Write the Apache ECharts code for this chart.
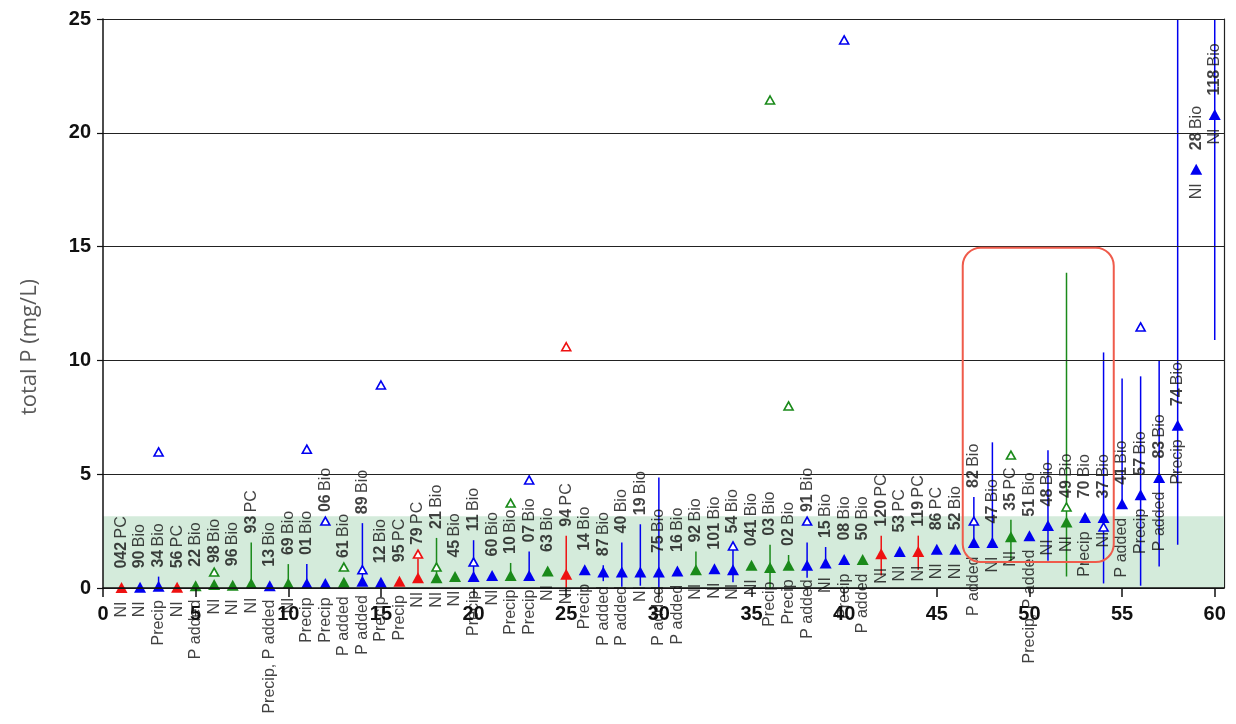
<!DOCTYPE html>
<html>
<head>
<meta charset="utf-8">
<script src="https://cdn.jsdelivr.net/npm/echarts@6/dist/echarts.min.js"></script>
<style>
html, body { margin: 0; padding: 0; background: #fff; }
#main { width: 1236px; height: 724px; }
</style>
</head>
<body>
<div id="main"></div>
<script>
// sample numbers (bold part of the upper label)
var ids = ['042','90','34','56','22','98','96','93','13','69',
           '01','06','61','89','12','95','79','21','45','11',
           '60','10','07','63','94','14','87','40','19','75',
           '16','92','101','54','041','03','02','91','15','08',
           '50','120','53','119','86','52','82','47','35','51',
           '48','49','70','37','41','57','83','74','28','118'];
var types = ['PC','Bio','Bio','PC','Bio','Bio','Bio','PC','Bio','Bio',
             'Bio','Bio','Bio','Bio','Bio','PC','PC','Bio','Bio','Bio',
             'Bio','Bio','Bio','Bio','PC','Bio','Bio','Bio','Bio','Bio',
             'Bio','Bio','Bio','Bio','Bio','Bio','Bio','Bio','Bio','Bio',
             'Bio','PC','PC','PC','PC','Bio','Bio','Bio','PC','Bio',
             'Bio','Bio','Bio','Bio','Bio','Bio','Bio','Bio','Bio','Bio'];
var sites = ['NI','NI','Precip','NI','P added','NI','NI','NI','Precip, P added','NI',
             'Precip','Precip','P added','P added','Precip','Precip','NI','NI','NI','Precip',
             'NI','Precip','Precip','NI','NI','Precip','P added','P added','NI','P added',
             'P added','NI','NI','NI','NI','Precip','Precip','P added','NI','Precip',
             'P added','NI','NI','NI','NI','NI','P added','NI','NI','Precip, P added',
             'NI','NI','Precip','NI','P added','Precip','P added','Precip','NI','NI'];
var groups = ['r','b','b','r','g','g','g','g','b','g',
              'b','b','g','b','b','r','r','g','g','b',
              'b','g','b','g','r','b','b','b','b','b',
              'b','g','b','b','g','g','g','b','b','b',
              'g','r','b','r','b','b','b','b','g','b',
              'b','g','b','b','b','b','b','b','b','b'];
var means = [0.02,0.03,0.08,0.03,0.1,0.15,0.12,0.2,0.1,0.2,
             0.2,0.2,0.25,0.3,0.25,0.3,0.45,0.45,0.5,0.5,
             0.55,0.55,0.55,0.75,0.6,0.8,0.7,0.7,0.7,0.7,
             0.75,0.8,0.85,0.8,1.0,0.9,1.0,1.0,1.1,1.25,
             1.25,1.5,1.6,1.6,1.7,1.7,2.0,2.0,2.25,2.3,
             2.75,2.9,3.1,3.1,3.7,4.1,4.85,7.15,18.4,20.8];
var lows = [null,null,0.08,null,null,null,null,0.2,null,0.2,
            0.2,null,null,0.3,null,null,0.45,0.45,null,0.5,
            null,0.55,0.55,null,0,null,0.3,0.05,0.1,0,
            null,0.8,null,0.25,null,0,0.9,0.45,1.1,null,
            null,0.55,null,0.8,null,null,2.0,2.0,1.1,null,
            1.2,0.5,null,0.2,3.7,0.1,0.95,1.9,null,10.9];
var highs = [null,null,0.5,null,null,null,null,2.0,null,1.05,
             1.05,null,null,2.85,null,null,1.3,2.2,null,2.1,
             null,1.1,1.6,null,2.3,null,1.0,2.0,2.8,4.85,
             null,1.6,null,2.0,null,1.9,1.45,2.0,1.8,null,
             null,2.3,null,2.3,null,null,4.0,6.4,3.0,null,
             6.05,13.85,null,10.35,9.2,9.3,10.0,25,null,25];
var opens = [null,null,5.98,null,null,0.7,null,null,null,null,
             6.1,2.94,0.92,0.8,8.92,null,1.49,0.92,null,1.14,
             null,3.73,4.75,null,10.6,null,null,null,null,null,
             null,null,null,1.85,null,21.44,8.0,2.94,null,24.08,
             null,null,null,null,null,null,2.94,null,5.84,null,
             null,3.56,null,2.68,null,11.47,null,null,null,null];
// shaded target band and highlighted group of samples
var bandTop = 3.15;
var boxX = [46.4, 54.55];
var boxY = [1.14, 14.95];

var palette = { r: '#ee1111', b: '#0000f0', g: '#1a8a1a' };
var fam = '"Liberation Sans", Arial, sans-serif';

var myChart = echarts.init(document.getElementById('main'));

var barData = [], openData = [], meanData = [], topLabelData = [];
for (var i = 0; i < means.length; i++) {
	var x = i + 1;
	var col = palette[groups[i]];
	if (lows[i] !== null) {
		barData.push({ value: [x, lows[i], highs[i]], itemStyle: { color: col } });
	}
	if (opens[i] !== null) {
		openData.push({ value: [x, opens[i]], itemStyle: { borderColor: col } });
	}
	meanData.push({ value: [x, means[i]], itemStyle: { color: col } });

	// the upper label sits over the bar top / open marker when they are close
	var anchor = means[i];
	if (highs[i] !== null && highs[i] - means[i] <= 3) anchor = Math.max(anchor, highs[i]);
	if (opens[i] !== null && opens[i] - means[i] <= 3) anchor = Math.max(anchor, opens[i]);
	topLabelData.push({
		value: [x, anchor],
		label: { distance: anchor === means[i] ? 13 : 3 }
	});
}

var option = {
	animation: false,
	backgroundColor: '#fff',
	grid: { left: 103, right: 12, top: 19, bottom: 136 },
	xAxis: {
		type: 'value',
		min: 0,
		max: 60.5,
		interval: 5,
		z: 10,
		splitLine: { show: false },
		axisLine: { lineStyle: { color: '#111', width: 1.5 } },
		axisTick: { show: true, length: 9, lineStyle: { color: '#111', width: 1.5 },
			customValues: [0, 5, 10, 15, 20, 25, 30, 35, 40, 45, 50, 55, 60] },
		axisLabel: {
			margin: 16,
			color: '#111',
			fontSize: 20,
			fontWeight: 'bold',
			fontFamily: fam,
			formatter: function(v) { return v % 5 === 0 ? String(v) : ''; }
		}
	},
	yAxis: [{
		type: 'value',
		min: 0,
		max: 25,
		interval: 5,
		z: 10,
		axisLine: { show: true, lineStyle: { color: '#111', width: 1.5 } },
		axisTick: { show: true, length: 6, lineStyle: { color: '#111', width: 1.2 } },
		splitLine: { show: true, lineStyle: { color: '#222', width: 1.2 } },
		axisLabel: {
			margin: 12,
			color: '#111',
			fontSize: 20,
			fontWeight: 'bold',
			fontFamily: fam
		}
	}, {
		type: 'value',
		position: 'right',
		min: 0,
		max: 25,
		interval: 5,
		axisLine: { show: true, lineStyle: { color: '#222', width: 1.2 } },
		axisTick: { show: false },
		axisLabel: { show: false },
		splitLine: { show: false }
	}],
	graphic: [{
		id: 'yname',
		type: 'text',
		x: 30,
		y: 347,
		rotation: Math.PI / 2,
		style: {
			text: 'total P (mg/L)',
			fill: '#595959',
			font: '22px "Open Sans", sans-serif',
			align: 'center',
			verticalAlign: 'middle'
		}
	}],
	series: [
		{
			// error bars
			type: 'custom',
			silent: true,
			z: 2,
			encode: { x: 0, y: [1, 2] },
			renderItem: function(params, api) {
				var p1 = api.coord([api.value(0), api.value(1)]);
				var p2 = api.coord([api.value(0), api.value(2)]);
				return {
					type: 'line',
					shape: { x1: p1[0], y1: p1[1], x2: p2[0], y2: p2[1] },
					style: { stroke: api.visual('color'), lineWidth: 1.5 }
				};
			},
			data: barData,
			markArea: {
				silent: true,
				itemStyle: { color: '#d4ebdb' },
				data: [[{ yAxis: 0 }, { yAxis: bandTop }]]
			}
		},
		{
			// open markers
			type: 'scatter',
			silent: true,
			z: 3,
			symbol: 'triangle',
			symbolSize: [9, 8],
			itemStyle: { color: '#fff', borderWidth: 1.6, opacity: 1 },
			data: openData
		},
		{
			// filled markers
			type: 'scatter',
			silent: true,
			z: 4,
			symbol: 'triangle',
			symbolSize: [12, 11],
			itemStyle: { opacity: 1 },
			data: meanData
		},
		{
			// sample labels above
			type: 'scatter',
			silent: true,
			z: 5,
			symbol: 'rect',
			symbolSize: 12,
			itemStyle: { color: 'rgba(0,0,0,0)' },
			label: {
				show: true,
				position: 'top',
				rotate: 90,
				align: 'left',
				verticalAlign: 'middle',
				formatter: function(p) {
					return '{n|' + ids[p.dataIndex] + '} {t|' + types[p.dataIndex] + '}';
				},
				rich: {
					n: { fontSize: 16, fontWeight: 'bold', fontFamily: fam, color: '#111' },
					t: { fontSize: 16, fontFamily: fam, color: '#111' }
				}
			},
			data: topLabelData
		},
		{
			// site labels below
			type: 'scatter',
			silent: true,
			z: 5,
			symbol: 'rect',
			symbolSize: 12,
			itemStyle: { color: 'rgba(0,0,0,0)' },
			label: {
				show: true,
				position: 'bottom',
				distance: 8,
				rotate: 90,
				align: 'right',
				verticalAlign: 'middle',
				fontSize: 16,
				fontFamily: fam,
				color: '#111',
				formatter: function(p) { return sites[p.dataIndex]; }
			},
			data: meanData.map(function(d) { return d.value; })
		}
	]
};

myChart.setOption(option);

// highlight box drawn from data coordinates
var tl = myChart.convertToPixel({ gridIndex: 0 }, [boxX[0], boxY[1]]);
var br = myChart.convertToPixel({ gridIndex: 0 }, [boxX[1], boxY[0]]);
myChart.setOption({
	graphic: [{
		id: 'box',
		type: 'rect',
		z: 20,
		silent: true,
		shape: { x: tl[0], y: tl[1], width: br[0] - tl[0], height: br[1] - tl[1], r: 18 },
		style: { fill: null, stroke: '#ef5b4b', lineWidth: 2 }
	}]
});
</script>
</body>
</html>
